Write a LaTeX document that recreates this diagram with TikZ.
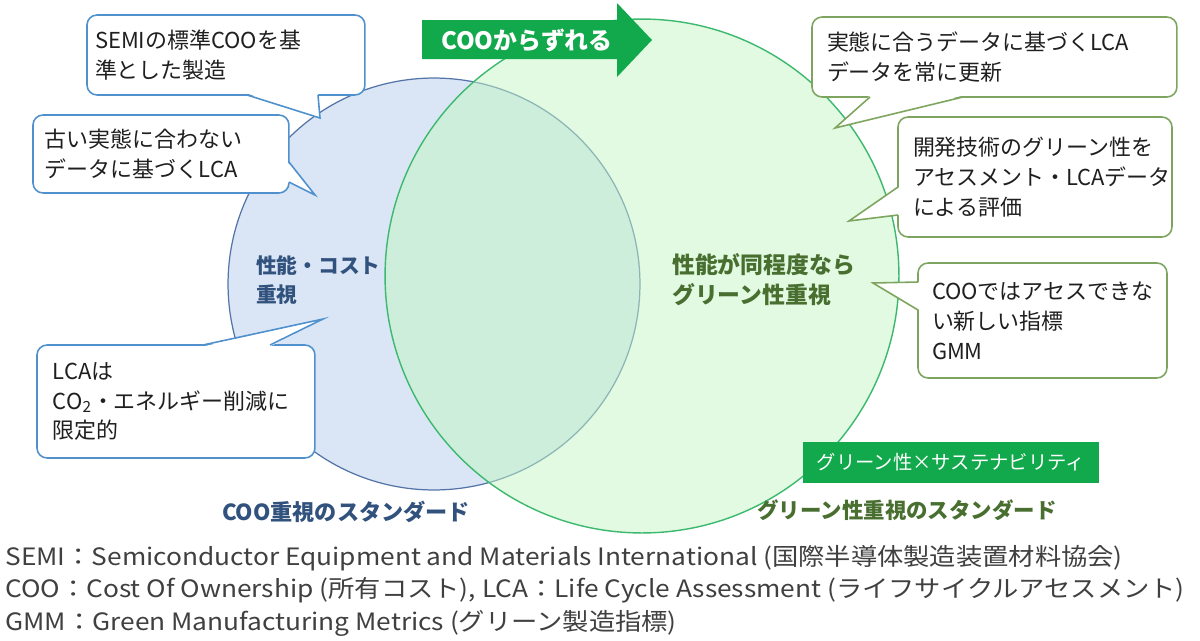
\documentclass[tikz,border=0pt]{standalone}
\usepackage{fontspec}
\setmainfont{Noto Sans CJK JP}
\newfontfamily\notefont[FakeStretch=1.1]{Noto Sans CJK JP}
\usepackage{tikz}
\usetikzlibrary{calc,positioning}
\definecolor{cooblue}{RGB}{218,230,245}
\definecolor{cooline}{RGB}{84,116,168}
\definecolor{coobox}{RGB}{80,145,205}
\definecolor{cootext}{RGB}{50,82,126}
\definecolor{grnfill}{RGB}{196,246,196}
\definecolor{grnline}{RGB}{60,185,110}
\definecolor{grnbox}{RGB}{125,165,95}
\definecolor{grntext}{RGB}{72,110,48}
\definecolor{grnarrow}{RGB}{18,168,76}
\definecolor{notegray}{RGB}{64,64,64}

\begin{document}
\begin{tikzpicture}[x=0.02cm,y=-0.02cm,
    callout/.style={draw,fill=white,rounded corners=0.2cm,line width=0.9pt,outer sep=0pt,
       anchor=north west,align=left,inner ysep=0pt,text=black!88,
       font=\fontsize{12.5}{17}\selectfont},
    bluecall/.style={callout,draw=coobox},
    greencall/.style={callout,draw=grnbox},
    note/.style={anchor=west,inner sep=0pt,text=notegray,text height=0.42cm,text depth=0.1cm,
       font=\notefont\fontsize{13.6}{15}\selectfont}]
    \useasboundingbox (0,0) rectangle (1200,640);
    \fill[white] (0,0) rectangle (1200,640);
    % two standards
    \node[circle,draw=cooline,fill=cooblue,line width=0.7pt,minimum size=8.24cm,inner sep=0pt] (coo) at (434,284) {};
    \node[circle,draw=grnline,fill=grnfill,fill opacity=0.5,line width=0.8pt,minimum size=10.28cm,inner sep=0pt] (green) at (642,276) {};
    \fill[grnarrow] (422,20) -- (617,20) -- (617,3) -- (652,40) -- (617,77) -- (617,59) -- (422,59) -- cycle;
    \node[text=white,font=\fontsize{13.6}{16}\selectfont\bfseries] (drift) at (527,40) {COOからずれる};
    \node[anchor=west,align=left,text=cootext,font=\fontsize{11.8}{17}\selectfont\bfseries] (cost) at (250,280) {性能・コスト\\重視};
    \node[anchor=west,align=left,text=grntext,font=\fontsize{13}{17}\selectfont\bfseries] (perf) at (666,280) {性能が同程度なら\\グリーン性重視};
    \node[text=cootext,font=\fontsize{12.6}{15}\selectfont\bfseries] (coostd) at (346,512) {COO重視のスタンダード};
    \node[text=grntext,font=\fontsize{12.2}{15}\selectfont\bfseries] (grnstd) at (907,510) {グリーン性重視のスタンダード};
    \node[fill=grnarrow,text=white,minimum width=5.94cm,minimum height=0.82cm,inner sep=0pt,
       font=\fontsize{11}{13}\selectfont] (sustain) at (951,462) {グリーン性×サステナビリティ};
    % callouts, left side
    \node[bluecall,inner xsep=0.16cm,text width=5.24cm,minimum height=1.6cm] (semi) at (87,15)
       {SEMIの標準COOを基\\準とした製造};
    \coordinate (semitip) at (320,118);
    \fill[white] ($(semi.south west)+(160,-1.5)$) -- (semitip) -- ($(semi.south west)+(231,-1.5)$) -- cycle;
    \draw[coobox,line width=0.9pt] ($(semi.south west)+(160,0)$) -- (semitip) -- ($(semi.south west)+(231,0)$);
    \node[bluecall,inner xsep=0.24cm,text width=4.64cm,minimum height=1.56cm] (old) at (33,115)
       {古い実態に合わない\\データに基づくLCA};
    \coordinate (oldtip) at (315,195);
    \fill[white] ($(old.north east)+(-1.5,47)$) -- (oldtip) -- ($(old.north east)+(-1.5,67)$) -- cycle;
    \draw[coobox,line width=0.9pt] ($(old.north east)+(0,47)$) -- (oldtip) -- ($(old.north east)+(0,67)$);
    \node[bluecall,inner xsep=0.32cm,text width=4.92cm,minimum height=2.26cm] (lca) at (37,345)
       {LCAは\\CO\textsubscript{2}・エネルギー削減に\\限定的};
    \coordinate (lcatip) at (323,319);
    \fill[white] ($(lca.north west)+(166,1.5)$) -- (lcatip) -- ($(lca.north west)+(233,1.5)$) -- cycle;
    \draw[coobox,line width=0.9pt] ($(lca.north west)+(166,0)$) -- (lcatip) -- ($(lca.north west)+(233,0)$);
    % callouts, right side
    \node[greencall,inner xsep=0.3cm,text width=6.7cm,minimum height=1.6cm] (real) at (812,17)
       {実態に合うデータに基づくLCA\\データを常に更新};
    \coordinate (realtip) at (835,128);
    \fill[white] ($(real.south west)+(58,-1.5)$) -- (realtip) -- ($(real.south west)+(151,-1.5)$) -- cycle;
    \draw[grnbox,line width=0.9pt] ($(real.south west)+(58,0)$) -- (realtip) -- ($(real.south west)+(151,0)$);
    \node[greencall,inner xsep=0.3cm,text width=4.88cm,minimum height=2.4cm] (dev) at (898,117)
       {開発技術のグリーン性を\\アセスメント・LCAデータ\\による評価};
    \coordinate (devtip) at (849,221);
    \fill[white] ($(dev.north west)+(1.5,70)$) -- (devtip) -- ($(dev.north west)+(1.5,98)$) -- cycle;
    \draw[grnbox,line width=0.9pt] ($(dev.north west)+(0,70)$) -- (devtip) -- ($(dev.north west)+(0,98)$);
    \node[greencall,inner xsep=0.28cm,text width=4.42cm,minimum height=2.3cm] (gmm) at (918,263)
       {COOではアセスできな\\い新しい指標\\GMM};
    \coordinate (gmmtip) at (873,283);
    \fill[white] ($(gmm.north west)+(1.5,19)$) -- (gmmtip) -- ($(gmm.north west)+(1.5,47)$) -- cycle;
    \draw[grnbox,line width=0.9pt] ($(gmm.north west)+(0,19)$) -- (gmmtip) -- ($(gmm.north west)+(0,47)$);
    % notes
    \node[note] (note1) at (5,557) {SEMI：Semiconductor Equipment and Materials International (国際半導体製造装置材料協会)};
    \node[note,below=0.12cm of note1.south west,anchor=north west] (note2) {COO：Cost Of Ownership (所有コスト), LCA：Life Cycle Assessment (ライフサイクルアセスメント)};
    \node[note,below=0.12cm of note2.south west,anchor=north west] (note3) {GMM：Green Manufacturing Metrics (グリーン製造指標)};
\end{tikzpicture}
\end{document}
